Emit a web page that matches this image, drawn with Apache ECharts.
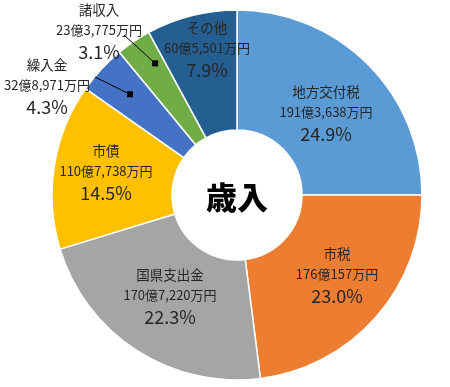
<!DOCTYPE html>
<html>
<head>
<meta charset="utf-8">
<script src="https://cdn.jsdelivr.net/npm/echarts@6/dist/echarts.min.js"></script>
<style>
html,body{margin:0;padding:0;background:#fff;}
#c{width:450px;height:387px;}
</style>
</head>
<body>
<div id="c"></div>
<script>
// ---- data ----
const categories = ['地方交付税', '市税', '国県支出金', '市債', '繰入金', '諸収入', 'その他'];
const values = [1913638, 1760157, 1707220, 1107738, 328971, 233775, 605501]; // 万円
const pctLabels = ['24.9%', '23.0%', '22.3%', '14.5%', '4.3%', '3.1%', '7.9%'];
const colors = ['#5B9BD5', '#ED7D31', '#A5A5A5', '#FFC000', '#4472C4', '#70AD47', '#255E91'];
const centerTitle = '歳入';

// ---- layout ----
const CX = 237, CY = 195, R0 = 65, R1 = 185;
const FONT = '"Noto Sans CJK JP", "Noto Sans", sans-serif';
// label anchor overrides (absolute px)
const labelPos = {4: [47, 87], 5: [99, 32], 6: [207, 50], 3: [106, 173], 0: [326, 114], 1: [337, 276], 2: [170, 297]};
// leader lines: from label side point to a point inside the slice (t = fraction within slice, r = radius)
const leaders = {4: {from: [95, 77], t: 0.53, r: 147}, 5: {from: [124, 35], t: 0.69, r: 155}};

function fmtAmount(v) {
  const oku = Math.floor(v / 10000);
  const man = v % 10000;
  return oku + '億' + man.toLocaleString('en-US') + '万円';
}

const total = values.reduce((a, b) => a + b, 0);
const data = categories.map((n, i) => ({
  name: n, value: values[i],
  itemStyle: {color: colors[i]}
}));

const graphics = [{
  type: 'text', z: 100,
  style: {text: centerTitle, x: CX, y: CY + 2, align: 'center', verticalAlign: 'middle',
    font: '900 31px ' + FONT, fill: '#000'}
}];
let cum = 0;
const starts = values.map(v => { const s = cum; cum += v; return s; });
Object.keys(leaders).forEach(k => {
  const i = +k, L = leaders[k];
  const frac = (starts[i] + values[i] * L.t) / total;
  const th = frac * 2 * Math.PI;
  const px = CX + L.r * Math.sin(th), py = CY - L.r * Math.cos(th);
  graphics.push({type: 'line', z: 100, shape: {x1: L.from[0], y1: L.from[1], x2: px, y2: py},
    style: {stroke: '#000', lineWidth: 1}});
  graphics.push({type: 'rect', z: 100, shape: {x: px - 3, y: py - 3, width: 6, height: 6},
    style: {fill: '#000'}});
});

const chart = echarts.init(document.getElementById('c'), null, {renderer: 'canvas'});
chart.setOption({
  animation: false,
  backgroundColor: '#fff',
  series: [{
    type: 'pie',
    center: [CX, CY],
    radius: [R0, R1],
    startAngle: 90,
    clockwise: true,
    data: data,
    itemStyle: {borderColor: '#fff', borderWidth: 1.5},
    label: {
      show: true,
      position: 'inside',
      formatter: p => '{n|' + p.name + '}\n{v|' + fmtAmount(p.value) + '}\n{p|' + pctLabels[p.dataIndex] + '}',
      rich: {
        n: {fontFamily: FONT, fontSize: 13.5, color: '#262626', lineHeight: 20, align: 'center'},
        v: {fontFamily: FONT, fontSize: 13, color: '#262626', lineHeight: 20, align: 'center'},
        p: {fontFamily: FONT, fontSize: 18, color: '#262626', lineHeight: 24, align: 'center'}
      }
    },
    labelLine: {show: false},
    labelLayout: function (params) {
      const pos = labelPos[params.dataIndex];
      if (!pos) return {};
      return {x: pos[0], y: pos[1], align: 'center', verticalAlign: 'middle'};
    }
  }],
  graphic: graphics
});
</script>
</body>
</html>
